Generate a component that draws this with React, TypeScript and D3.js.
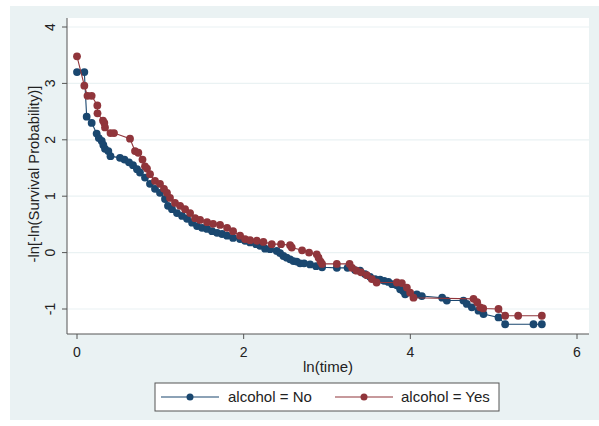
import React from "react";
import * as d3 from "d3";

// ln(time) and -ln[-ln(S)] for each alcohol group
const noLnTime = [
  0.0, 0.088, 0.116, 0.176, 0.236, 0.262, 0.297, 0.316, 0.336, 0.376, 0.402, 0.516, 0.57,
  0.624, 0.672, 0.72, 0.756, 0.816, 0.876, 0.936, 0.996, 1.056, 1.092, 1.14, 1.2, 1.261,
  1.321, 1.381, 1.441, 1.501, 1.561, 1.621, 1.681, 1.741, 1.801, 1.873, 1.957, 2.017, 2.077,
  2.149, 2.197, 2.257, 2.317, 2.397, 2.437, 2.477, 2.517, 2.557, 2.597, 2.637, 2.677, 2.725,
  2.797, 2.869, 2.941, 3.118, 3.247, 3.337, 3.397, 3.457, 3.517, 3.577, 3.637, 3.686, 3.737,
  3.782, 3.838, 3.878, 3.914, 3.938, 4.078, 4.138, 4.382, 4.438, 4.637, 4.678, 4.738, 4.818,
  4.878, 5.058, 5.138, 5.478, 5.578,
];
const noLogLogS = [
  3.2, 3.2, 2.41, 2.3, 2.11, 2.03, 1.98, 1.91, 1.84, 1.8, 1.71, 1.68, 1.65,
  1.6, 1.55, 1.48, 1.42, 1.33, 1.22, 1.13, 1.06, 0.95, 0.83, 0.77, 0.7, 0.65,
  0.6, 0.53, 0.47, 0.44, 0.42, 0.38, 0.35, 0.33, 0.3, 0.26, 0.24, 0.21, 0.18,
  0.15, 0.12, 0.07, 0.06, 0.03, -0.01, -0.06, -0.09, -0.12, -0.15, -0.16, -0.19, -0.19,
  -0.21, -0.24, -0.26, -0.27, -0.27, -0.31, -0.32, -0.38, -0.43, -0.47, -0.48, -0.5, -0.52,
  -0.56, -0.58, -0.65, -0.68, -0.74, -0.74, -0.77, -0.8, -0.85, -0.85, -0.91, -0.97, -1.03,
  -1.09, -1.15, -1.27, -1.27, -1.27,
];

const yesLnTime = [
  0.0, 0.088, 0.126, 0.176, 0.244, 0.246, 0.312, 0.328, 0.336, 0.402, 0.444, 0.636, 0.696,
  0.736, 0.786, 0.816, 0.84, 0.876, 0.936, 0.996, 1.044, 1.08, 1.116, 1.176, 1.237, 1.297,
  1.357, 1.417, 1.477, 1.561, 1.633, 1.717, 1.801, 1.873, 1.957, 2.017, 2.077, 2.157, 2.237,
  2.337, 2.449, 2.557, 2.577, 2.701, 2.785, 2.877, 2.899, 2.923, 2.941, 3.118, 3.271, 3.301,
  3.355, 3.409, 3.478, 3.538, 3.595, 3.838, 3.898, 3.958, 3.998, 4.038, 4.758, 4.802, 4.838,
  4.874, 5.058, 5.138, 5.294, 5.578,
];
const yesLogLogS = [
  3.48, 2.96, 2.78, 2.78, 2.61, 2.47, 2.34, 2.3, 2.22, 2.12, 2.12, 2.02, 1.8,
  1.77, 1.65, 1.53, 1.49, 1.39, 1.27, 1.22, 1.13, 1.06, 0.97, 0.88, 0.83, 0.77,
  0.7, 0.61, 0.58, 0.54, 0.51, 0.49, 0.44, 0.38, 0.3, 0.24, 0.22, 0.21, 0.19,
  0.15, 0.15, 0.13, 0.09, 0.04, 0.0, -0.03, -0.09, -0.16, -0.2, -0.2, -0.2, -0.27,
  -0.32, -0.35, -0.4, -0.47, -0.53, -0.53, -0.54, -0.62, -0.71, -0.8, -0.82, -0.88, -0.97,
  -0.99, -1.0, -1.12, -1.12, -1.12,
];

const xTicks = [0, 2, 4, 6];
const yTicks = [-1, 0, 1, 2, 3, 4];
const groupLabels = ["alcohol = No", "alcohol = Yes"];

const NAVY = "#1a476f";
const MAROON = "#90353b";
const BG = "#eaf2f3";
const FONT = "Liberation Sans, Arial, sans-serif";

export default function App() {
  const W = 599;
  const H = 426;
  const plot = { left: 67, right: 589, top: 18, bottom: 334 };

  const x = d3.scaleLinear().domain([0, 6]).range([77, 577]);
  const y = d3.scaleLinear().domain([-1, 4]).range([309, 27]);

  const series = [
    { name: groupLabels[0], color: NAVY, xs: noLnTime, ys: noLogLogS },
    { name: groupLabels[1], color: MAROON, xs: yesLnTime, ys: yesLogLogS },
  ];

  const line = d3
    .line<[number, number]>()
    .x((d) => x(d[0]))
    .y((d) => y(d[1]));

  const legend = { x0: 155, x1: 499, y0: 383, y1: 411 };
  const legendItems = [
    { lineX0: 161, lineX1: 219, textX: 228 },
    { lineX0: 335, lineX1: 393, textX: 401 },
  ];

  return (
    <svg
      width={W}
      height={H}
      style={{ position: "absolute", left: 0, top: 0, background: "#fff" }}
      fontFamily={FONT}
    >
      <rect x={10} y={6} width={W - 10} height={414} fill={BG} />
      <rect
        x={plot.left}
        y={plot.top}
        width={plot.right - plot.left}
        height={plot.bottom - plot.top}
        fill="#fff"
      />
      {/* gridlines */}
      {yTicks.map((t) => (
        <line
          key={"g" + t}
          x1={plot.left}
          x2={plot.right}
          y1={y(t)}
          y2={y(t)}
          stroke={BG}
          strokeWidth={1.2}
        />
      ))}

      {/* series */}
      {series.map((s) => {
        const pts: [number, number][] = s.xs.map((v, i) => [v, s.ys[i]]);
        return (
          <g key={s.name}>
            <path d={line(pts) || ""} fill="none" stroke={s.color} strokeWidth={1.1} />
            {pts.map((p, i) => (
              <circle key={i} cx={x(p[0])} cy={y(p[1])} r={3.9} fill={s.color} />
            ))}
          </g>
        );
      })}

      {/* axes */}
      <line x1={plot.left} x2={plot.left} y1={plot.top} y2={plot.bottom} stroke="#555" strokeWidth={1} />
      <line x1={plot.left} x2={plot.right} y1={plot.bottom} y2={plot.bottom} stroke="#555" strokeWidth={1} />
      {yTicks.map((t) => (
        <g key={"yt" + t}>
          <line x1={plot.left - 5} x2={plot.left} y1={y(t)} y2={y(t)} stroke="#555" />
          <text
            transform={`translate(${55},${y(t)}) rotate(-90)`}
            textAnchor="middle"
            fontSize={14}
            fill="#222"
          >
            {t}
          </text>
        </g>
      ))}
      {xTicks.map((t) => (
        <g key={"xt" + t}>
          <line x1={x(t)} x2={x(t)} y1={plot.bottom} y2={plot.bottom + 5} stroke="#555" />
          <text x={x(t)} y={357} textAnchor="middle" fontSize={14} fill="#222">
            {t}
          </text>
        </g>
      ))}

      <text
        transform={`translate(${39},${174}) rotate(-90)`}
        textAnchor="middle"
        fontSize={14.8}
        fill="#222"
      >
        -ln[-ln(Survival Probability)]
      </text>
      <text x={(plot.left + plot.right) / 2} y={371.5} textAnchor="middle" fontSize={15} fill="#222">
        ln(time)
      </text>

      {/* legend */}
      <rect
        x={legend.x0}
        y={legend.y0}
        width={legend.x1 - legend.x0}
        height={legend.y1 - legend.y0}
        fill="#fff"
        stroke="#555"
        strokeWidth={1}
      />
      {series.map((s, i) => {
        const it = legendItems[i];
        const cy = (legend.y0 + legend.y1) / 2;
        return (
          <g key={"lg" + i}>
            <line x1={it.lineX0} x2={it.lineX1} y1={cy} y2={cy} stroke={s.color} strokeWidth={1.1} />
            <circle cx={(it.lineX0 + it.lineX1) / 2} cy={cy} r={3.5} fill={s.color} />
            <text x={it.textX} y={cy + 5} fontSize={15} fill="#222">
              {s.name}
            </text>
          </g>
        );
      })}
    </svg>
  );
}
